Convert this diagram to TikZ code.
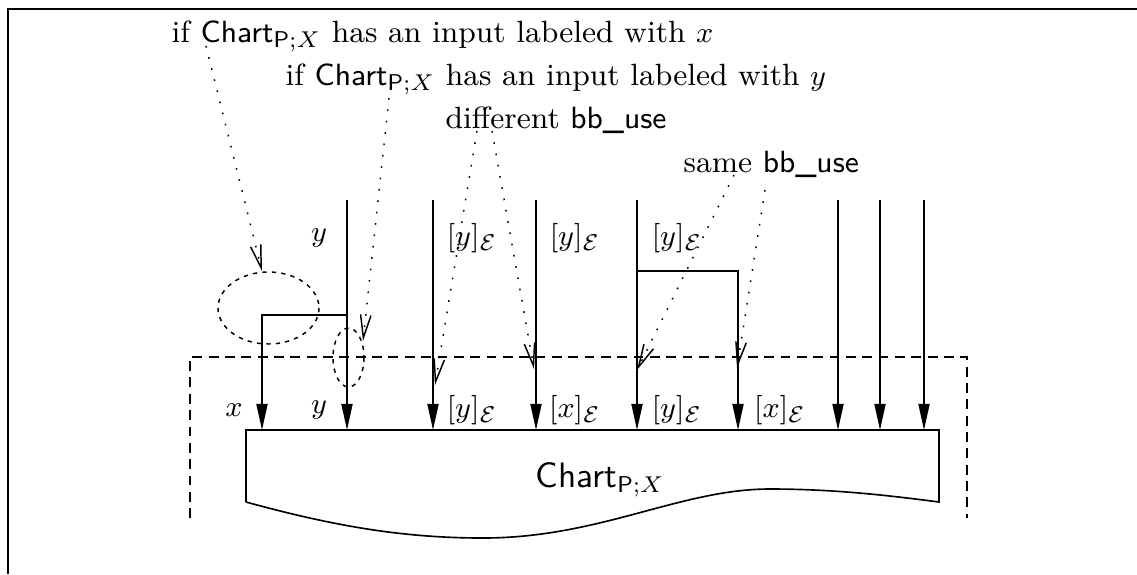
\documentclass[tikz,border=0pt]{standalone}
\usetikzlibrary{arrows.meta}
\begin{document}
\begin{tikzpicture}[x=0.306pt,y=-0.306pt,
  wire/.style={line width=0.5pt,-{Triangle[length=8pt,width=3.4pt]}},
  plain/.style={line width=0.5pt},
  pointer/.style={line width=0.45pt,dash pattern=on 0.5pt off 3pt,-{Straight Barb[length=7pt,width=3.2pt,line width=0.45pt]}},
  region/.style={line width=0.45pt,dash pattern=on 3pt off 2pt},
  ring/.style={line width=0.45pt,dash pattern=on 1.3pt off 1.6pt},
  lbl/.style={inner sep=0pt,font=\fontsize{9.4}{11}\selectfont}]
\useasboundingbox (0,0) rectangle (1137,574);
% frame
\draw[line width=0.8pt] (8,574) -- (8,9) -- (1137,9);
% dashed region
\draw[region] (190,518) -- (190,357) -- (967,357) -- (967,518);
% box
\draw[plain,line join=miter] (246,502) -- (246,430) -- (939,430) -- (939,502)
  .. controls (900,497) and (840,489) .. (770,489)
  .. controls (680,489) and (600,538) .. (483,538)
  .. controls (400,538) and (330,525) .. (246,502);
\node[lbl,anchor=base west] (chart) at (535,487) {{\fontsize{10.8}{12}\selectfont\textsf{Chart}}$_{\mathsf{P};X}$};
% wire coordinates
\foreach \n/\x in {1/262,2/347,3/433,4/536,5/637,6/738,7/838,8/880,9/924}{
  \coordinate (b\n) at (\x,430);
  \coordinate (t\n) at (\x,200);
}
\coordinate (c1) at (347,315);
\coordinate (c6) at (637,271);
\draw[wire] (c1) -| (b1);
\draw[wire] (t2) -- (b2);
\draw[wire] (t3) -- (b3);
\draw[wire] (t4) -- (b4);
\draw[wire] (t5) -- (b5);
\draw[wire] (c6) -| (b6);
\draw[wire] (t7) -- (b7);
\draw[wire] (t8) -- (b8);
\draw[wire] (t9) -- (b9);
% labels
\node[lbl] (lx) at (234,410) {$x$};
\node[lbl] (ly) at (319,410) {$y$};
\node[lbl] (l3) at (472,410) {$[y]_{\mathcal{E}}$};
\node[lbl] (l4) at (575,410) {$[x]_{\mathcal{E}}$};
\node[lbl] (l5) at (677,410) {$[y]_{\mathcal{E}}$};
\node[lbl] (l6) at (780,410) {$[x]_{\mathcal{E}}$};
\node[lbl] (u2) at (319,238) {$y$};
\node[lbl] (u3) at (472,238) {$[y]_{\mathcal{E}}$};
\node[lbl] (u4) at (575,238) {$[y]_{\mathcal{E}}$};
\node[lbl] (u5) at (677,238) {$[y]_{\mathcal{E}}$};
% ellipses
\draw[ring] (268.5,308) ellipse [x radius=50.5,y radius=36];
\draw[ring] (348.5,357.5) ellipse [x radius=15.5,y radius=29.5];
% texts
\node[lbl,anchor=base west] (n1) at (171,42) {if $\textsf{Chart}_{\mathsf{P};X}$ has an input labeled with $x$};
\node[lbl,anchor=base west] (n2) at (285,85) {if $\textsf{Chart}_{\mathsf{P};X}$ has an input labeled with $y$};
\node[lbl,anchor=base west] (n3) at (445,128) {different \textsf{bb\_use}};
\node[lbl,anchor=base west] (n4) at (683,172) {same \textsf{bb\_use}};
% pointer coordinates
\coordinate (s1) at (206,46);
\coordinate (e1) at (262,271);
\coordinate (s2) at (389,98);
\coordinate (e2) at (363,341);
\coordinate (s3a) at (477,131);
\coordinate (e3a) at (435,385);
\coordinate (s3b) at (492,131);
\coordinate (e3b) at (534,369);
\coordinate (s4a) at (734,175);
\coordinate (e4a) at (637,370);
\coordinate (s4b) at (765,190);
\coordinate (e4b) at (737,368);
\draw[pointer] (s1) -- (e1);
\draw[pointer] (s2) -- (e2);
\draw[pointer] (s3a) -- (e3a);
\draw[pointer] (s3b) -- (e3b);
\draw[pointer] (s4a) -- (e4a);
\draw[pointer] (s4b) -- (e4b);
\end{tikzpicture}
\end{document}
